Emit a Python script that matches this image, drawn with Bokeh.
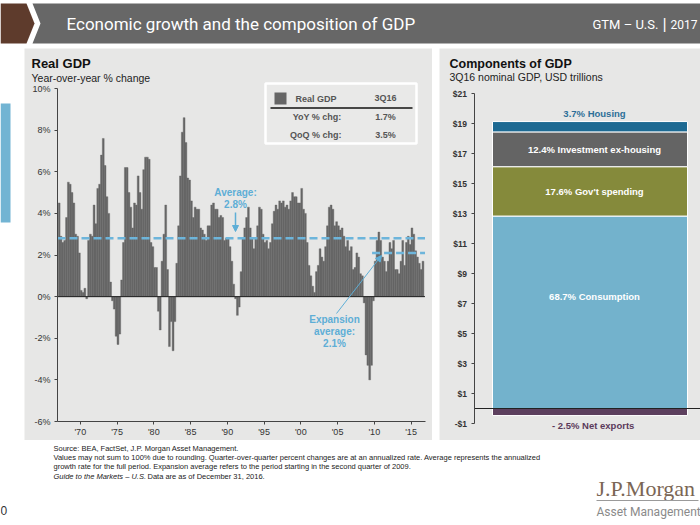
from bokeh.plotting import figure
from bokeh.models import Range1d, LinearAxis, FixedTicker, Arrow, NormalHead, Spacer, AllLabels
from bokeh.layouts import column, row
from bokeh.embed import file_html
from bokeh.resources import INLINE
from bokeh.core.properties import value

# ---------------- data ----------------
# Real GDP, year-over-year % change, quarterly from 1Q1967 to 3Q2016
yoy_1967_1969 = [4.5, 2.9, 2.6, 2.7, 3.8, 5.5, 5.4, 5.0, 4.5, 3.0, 2.9, 2.1]
yoy_1970s = [0.3, 0.2, 0.4, -0.1, 2.7, 3.0, 2.9, 4.4, 3.5, 5.2, 5.4, 6.8,
             7.6, 6.3, 4.8, 4.0, 0.7, -0.2, -0.6, -1.9, -2.3, -1.8, 0.8, 2.6,
             6.2, 6.2, 5.0, 4.3, 3.3, 4.5, 4.4, 5.8, 5.0, 4.2, 6.1, 6.7,
             6.7, 6.6, 2.6, 2.4]
yoy_1980s = [1.4, 1.4, -0.7, -1.6, 1.7, 3.0, 4.4, 1.3, -2.4, -1.2, -2.6, -1.2,
             1.6, 3.4, 5.8, 7.9, 8.6, 7.4, 5.7, 5.6, 4.6, 3.8, 4.3, 4.2,
             4.2, 3.3, 3.2, 3.0, 2.7, 3.4, 3.4, 4.4, 4.5, 4.2, 4.2, 3.8,
             3.9, 3.8, 2.7, 2.8]
yoy_1990s = [2.8, 2.4, 1.7, 0.6, -0.1, -0.9, -0.5, 1.2, 2.8, 3.3, 3.8, 4.3,
             3.3, 2.8, 2.3, 2.8, 3.4, 4.3, 4.2, 3.0, 2.6, 2.7, 2.3, 2.6,
             3.5, 4.1, 4.4, 4.2, 4.6, 4.5, 4.6, 4.3, 4.4, 4.2, 4.6, 5.0,
             4.8, 4.8, 4.5, 4.5]
yoy_2000s = [5.2, 4.2, 4.0, 2.6, 1.5, 1.0, 0.5, 0.2, 1.2, 1.5, 2.3, 1.9,
             1.7, 2.4, 3.4, 4.3, 4.4, 4.2, 3.4, 3.6, 3.4, 3.2, 3.3, 2.9,
             2.4, 2.7, 2.2, 2.4, 1.3, 1.4, 2.1, 1.9, 1.1, 1.0, -0.3, -2.8,
             -3.3, -4.0, -3.3, -0.2]
yoy_2010s = [1.7, 2.7, 3.1, 2.7, 1.9, 1.7, 1.2, 1.7, 2.6, 2.3, 2.7, 1.3,
             1.3, 1.1, 1.7, 2.7, 1.5, 2.6, 2.9, 2.5, 3.3, 3.0, 2.2, 1.9,
             1.6, 1.3, 1.7]
first_year = 1967
avg_growth = 2.8
expansion_avg = 2.1
expansion_start = 2009.7
year_ticks = [1970, 1975, 1980, 1985, 1990, 1995, 2000, 2005, 2010, 2015]
year_labels = ["'70", "'75", "'80", "'85", "'90", "'95", "'00", "'05", "'10", "'15"]
pct_ticks = [-6, -4, -2, 0, 2, 4, 6, 8, 10]
table_header = ("Real GDP", "3Q16")
table_rows = [("YoY % chg:", "1.7%"), ("QoQ % chg:", "3.5%")]

# Components of GDP, 3Q16 nominal, USD trillions
comp_names = ["Consumption", "Gov't spending", "Investment ex-housing", "Housing", "Net exports"]
comp_shares = [68.7, 17.6, 12.4, 3.7, -2.5]
comp_values = [12.83, 3.29, 2.32, 0.69, -0.47]
comp_colors = ["#73b2cc", "#858a3b", "#646464", "#1d6a93", "#5d405e"]
usd_ticks = [-1, 1, 3, 5, 7, 9, 11, 13, 15, 17, 19, 21]

SANS = "Liberation Sans"
PANEL = "#e7e7e6"
BAR = "#666666"
LBLUE = "#6db5db"
TBLUE = "#5eaed6"

TOP = 48      # page y where the panels start
BOT = 440     # page y where the panels end
MID_H = BOT - TOP


def add_text(p, x, y, s, size, color, style="normal", align="left", font=SANS, baseline="middle"):
    p.text(x=[x], y=[y], text=[s], text_font=value(font), text_font_size=f"{size}px",
           text_font_style=style, text_color=color, text_align=align, text_baseline=baseline)


def base_fig(w, h, xr, yr, bg):
    f = figure(width=w, height=h, x_range=xr, y_range=yr, toolbar_location=None,
               output_backend="svg", x_axis_location=None, y_axis_location=None,
               min_border=0, outline_line_color=None,
               background_fill_color=bg, border_fill_color=bg)
    f.grid.grid_line_color = None
    f.grid.visible = False
    return f


# ---------------- header ----------------
ph = base_fig(700, TOP, Range1d(0, 700), Range1d(TOP, 0), "white")
ph.patch(x=[0, 26, 34, 26, 0], y=[3, 3, 23, 43, 43], fill_color="#5e3b2c", line_color=None)
ph.patch(x=[32, 700, 700, 32, 40], y=[3, 3, 43, 43, 23], fill_color="#676767", line_color=None)
add_text(ph, 66, 23, "Economic growth and the composition of GDP", 17, "white", font="Roboto")
add_text(ph, 592, 24, "GTM – U.S.", 13, "white", font="Roboto")
add_text(ph, 662, 23, "|", 17, "white", font="Roboto")
add_text(ph, 670, 24, "2017", 12, "white", font="Roboto")

# ---------------- side strip ----------------
ps = base_fig(24, MID_H, Range1d(0, 24), Range1d(BOT, TOP), "white")
ps.quad(left=0, right=10, top=103, bottom=222, fill_color="#72b4d3", line_color=None)

# ---------------- left chart: Real GDP ----------------
PX_PER_YEAR = 7.35
PX_PER_PCT = 20.8125
AX_X0 = 1966.9
AX_X1 = 2016.9


def lx(px):
    return AX_X0 + (px - 57) / PX_PER_YEAR


def ly(py):
    return 10 - (py - 88) / PX_PER_PCT


yoy = yoy_1967_1969 + yoy_1970s + yoy_1980s + yoy_1990s + yoy_2000s + yoy_2010s
qx = [first_year + 0.25 * i + 0.125 for i in range(len(yoy))]

pl = base_fig(408, MID_H, Range1d(lx(24), lx(432)), Range1d(ly(BOT), ly(TOP)), PANEL)
pl.vbar(x=qx, top=yoy, bottom=0, width=0.25, fill_color=BAR, line_color=BAR, line_width=0.4)
pl.segment(x0=[AX_X0], y0=[0], x1=[AX_X1], y1=[0], line_color="#222222", line_width=1)
pl.segment(x0=[AX_X0], y0=[avg_growth], x1=[AX_X1], y1=[avg_growth],
           line_color=LBLUE, line_width=2.5, line_dash="8 4")
pl.segment(x0=[expansion_start], y0=[expansion_avg], x1=[AX_X1], y1=[expansion_avg],
           line_color=LBLUE, line_width=2.5, line_dash="8 4")

yax = LinearAxis(fixed_location=AX_X0, bounds=(pct_ticks[0], pct_ticks[-1]),
                 ticker=FixedTicker(ticks=pct_ticks),
                 major_label_overrides={t: f"{t}%" for t in pct_ticks})
xax = LinearAxis(fixed_location=pct_ticks[0], bounds=(AX_X0, AX_X1),
                 ticker=FixedTicker(ticks=year_ticks),
                 major_label_overrides=dict(zip(year_ticks, year_labels)))
for ax in (yax, xax):
    ax.axis_line_color = "#444444"
    ax.major_tick_line_color = "#444444"
    ax.major_tick_in = 0
    ax.major_tick_out = 3
    ax.minor_tick_line_color = None
    ax.major_label_text_font = SANS
    ax.major_label_text_font_size = "9px"
    ax.major_label_text_color = "#333333"
    ax.major_label_policy = AllLabels()
yax.major_label_standoff = 4
xax.major_label_standoff = 2
pl.add_layout(yax, "left")
pl.add_layout(xax, "below")

add_text(pl, lx(31), ly(63), "Real GDP", 13, "#111111", style="bold")
add_text(pl, lx(31), ly(77), "Year-over-year % change", 10.5, "#222222")

# legend table
pl.quad(left=lx(265), right=lx(416), top=ly(83), bottom=ly(143),
        fill_color="#e9e9e8", line_color="white", line_width=2.5)
pl.quad(left=lx(274), right=lx(286), top=ly(92), bottom=ly(104), fill_color=BAR, line_color=None)
pl.segment(x0=[lx(270)], y0=[ly(107.5)], x1=[lx(412)], y1=[ly(107.5)], line_color="#111111", line_width=1.5)
add_text(pl, lx(295), ly(98), table_header[0], 9, "#555555", style="bold")
add_text(pl, lx(385), ly(97), table_header[1], 9, "#555555", style="bold", align="center")
for k, (lab, val) in enumerate(table_rows):
    yy = ly(116 + 18 * k)
    add_text(pl, lx(341), yy, lab, 9, "#555555", style="bold", align="right")
    add_text(pl, lx(385), yy, val, 9, "#555555", style="bold", align="center")

# annotations
add_text(pl, lx(235), ly(192), "Average:", 10, TBLUE, style="bold", align="center")
add_text(pl, lx(235), ly(204), f"{avg_growth}%", 10, TBLUE, style="bold", align="center")
pl.add_layout(Arrow(end=NormalHead(size=6, fill_color=TBLUE, line_color=TBLUE),
                    x_start=lx(235), y_start=ly(212), x_end=lx(235), y_end=ly(231),
                    line_color=TBLUE, line_width=1.5))
add_text(pl, lx(334), ly(319), "Expansion", 10, TBLUE, style="bold", align="center")
add_text(pl, lx(334), ly(331), "average:", 10, TBLUE, style="bold", align="center")
add_text(pl, lx(334), ly(343), f"{expansion_avg}%", 10, TBLUE, style="bold", align="center")
pl.add_layout(Arrow(end=NormalHead(size=6, fill_color=TBLUE, line_color=TBLUE),
                    x_start=lx(336), y_start=ly(313), x_end=lx(381), y_end=ly(255),
                    line_color=TBLUE, line_width=1))

# ---------------- right chart: Components ----------------
PX_PER_USD = 15.0


def ry(py):
    return (408 - py) / PX_PER_USD


pr = base_fig(261, MID_H, Range1d(439, 700), Range1d(ry(BOT), ry(TOP)), PANEL)
AXR = 473.5
BAR_X = 589.5
BAR_W = 195

bottoms, tops = [], []
run = 0.0
for v in comp_values:
    if v >= 0:
        bottoms.append(run)
        tops.append(run + v)
        run += v
    else:
        bottoms.append(v)
        tops.append(0.0)
pr.vbar(x=[BAR_X] * len(comp_values), bottom=bottoms, top=tops, width=BAR_W,
        fill_color=comp_colors, line_color="white", line_width=1)
pr.segment(x0=[AXR], y0=[0], x1=[700], y1=[0], line_color="#222222", line_width=1)

rax = LinearAxis(fixed_location=AXR, bounds=(usd_ticks[0], usd_ticks[-1]),
                 ticker=FixedTicker(ticks=usd_ticks),
                 major_label_overrides={t: (f"${t}" if t >= 0 else f"-${-t}") for t in usd_ticks})
rax.axis_line_color = "#444444"
rax.major_tick_line_color = "#444444"
rax.major_tick_in = 0
rax.major_tick_out = 3
rax.minor_tick_line_color = None
rax.major_label_text_font = SANS
rax.major_label_text_font_size = "8.5px"
rax.major_label_text_font_style = "bold"
rax.major_label_text_color = "#333333"
rax.major_label_standoff = 4
rax.major_label_policy = AllLabels()
pr.add_layout(rax, "left")

add_text(pr, 449, ry(63), "Components of GDP", 12.5, "#111111", style="bold")
add_text(pr, 449, ry(76), "3Q16 nominal GDP, USD trillions", 10.5, "#222222")

LABEL_X = 594
inside_frac = {0: 0.58, 1: 0.5, 2: 0.5}
for k in range(len(comp_names)):
    lab = f"{comp_shares[k]}% {comp_names[k]}"
    if k in inside_frac:
        yy = bottoms[k] + inside_frac[k] * (tops[k] - bottoms[k])
        add_text(pr, LABEL_X, yy, lab, 9.5, "white", style="bold", align="center")
    elif comp_values[k] >= 0:
        add_text(pr, LABEL_X, tops[k] + 8 / PX_PER_USD, lab, 9.5, "#2d6f98", style="bold", align="center")
    else:
        lab = f"- {abs(comp_shares[k])}%  {comp_names[k]}"
        add_text(pr, LABEL_X, bottoms[k] - 10 / PX_PER_USD, lab, 9.5, "#5b3a5b", style="bold", align="center")

# ---------------- footer ----------------
pf = base_fig(700, 525 - BOT, Range1d(0, 700), Range1d(525, BOT), "white")
foot = ["Source: BEA, FactSet, J.P. Morgan Asset Management.",
        "Values may not sum to 100% due to rounding. Quarter-over-quarter percent changes are at an annualized rate. Average represents the annualized",
        "growth rate for the full period. Expansion average refers to the period starting in the second quarter of 2009."]
for k, s in enumerate(foot):
    add_text(pf, 53, 448 + 9.2 * k, s, 7.5, "#222222")
add_text(pf, 53, 475.6, "Guide to the Markets – U.S.", 7.5, "#222222", style="italic")
add_text(pf, 147, 475.6, "Data are as of December 31, 2016.", 7.5, "#222222")
add_text(pf, 596, 488, "J.P.Morgan", 22, "#7b6655", font="Liberation Serif")
pf.segment(x0=[596], y0=[500], x1=[698], y1=[500], line_color="#9a9a9a", line_width=1)
add_text(pf, 596, 511, "Asset Management", 12, "#8a8a8a", font="Roboto")
add_text(pf, 0, 510, "0", 12, "#333333")

layout = column(ph, row(ps, pl, Spacer(width=7, height=MID_H), pr), pf)

with open("out.html", "w") as fh:
    fh.write(file_html(layout, INLINE))
